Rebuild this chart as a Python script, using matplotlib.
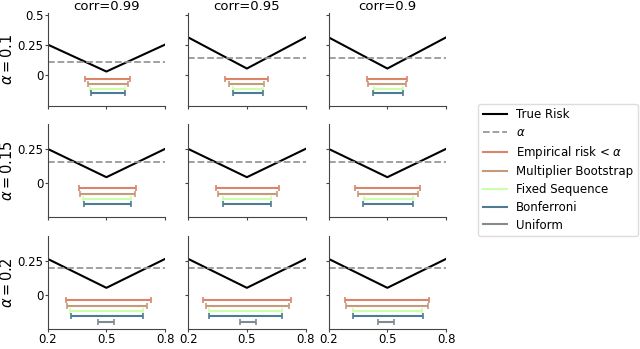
import matplotlib
matplotlib.use('Agg')
import matplotlib.pyplot as plt

corrs = [0.99, 0.95, 0.9]
alphas = [0.1, 0.15, 0.2]
lambdas = [0.2, 0.5, 0.8]

# true risk at lambda = 0.2, 0.5, 0.8 for each (alpha row, corr column)
true_risk = [
    [[0.25, 0.025, 0.25], [0.31, 0.05, 0.31], [0.31, 0.05, 0.31]],
    [[0.25, 0.043, 0.25], [0.25, 0.043, 0.25], [0.25, 0.043, 0.25]],
    [[0.262, 0.052, 0.262], [0.262, 0.052, 0.262], [0.262, 0.052, 0.262]],
]
# dashed alpha level drawn in each panel
alpha_line = [
    [0.103, 0.137, 0.137],
    [0.152, 0.152, 0.152],
    [0.198, 0.198, 0.198],
]

methods = ['Empirical risk < $\\alpha$', 'Multiplier Bootstrap', 'Fixed Sequence',
           'Bonferroni', 'Uniform']
colors = ['#d9856a', '#c79a7c', '#ccffaa', '#4f7a96', '#7f8b90']

# selected lambda intervals (low, high) per panel, per method; None = empty
intervals = [
    [
        [(0.392, 0.619), (0.406, 0.612), (0.418, 0.594), (0.42, 0.594), None],
        [(0.39, 0.608), (0.41, 0.59), (0.428, 0.58), (0.428, 0.58), None],
        [(0.397, 0.599), (0.403, 0.594), (0.431, 0.578), (0.428, 0.578), None],
    ],
    [
        [(0.358, 0.649), (0.365, 0.646), (0.379, 0.627), (0.386, 0.625), None],
        [(0.344, 0.663), (0.354, 0.653), (0.38, 0.625), (0.378, 0.622), None],
        [(0.337, 0.667), (0.348, 0.657), (0.38, 0.631), (0.375, 0.63), None],
    ],
    [
        [(0.295, 0.726), (0.298, 0.708), (0.315, 0.685), (0.318, 0.685), (0.455, 0.538)],
        [(0.274, 0.727), (0.29, 0.713), (0.308, 0.68), (0.304, 0.68), (0.466, 0.546)],
        [(0.282, 0.714), (0.287, 0.707), (0.326, 0.676), (0.326, 0.684), (0.454, 0.534)],
    ],
]

ylims = [(-0.261, 0.514), (-0.25, 0.429), (-0.245, 0.429)]
yticks = [[0, 0.25, 0.5], [0, 0.25], [0, 0.25]]
ylabels_txt = [['0', '0.25', '0.5'], ['0', '0.25'], ['0', '0.25']]

fig, axes = plt.subplots(3, 3, figsize=(6.4, 3.49), dpi=100)
fig.subplots_adjust(left=0.0745, right=0.697, bottom=0.058, top=0.963,
                    wspace=0.196, hspace=0.2)

for i in range(3):
    for j in range(3):
        ax = axes[i][j]
        ax.plot(lambdas, true_risk[i][j], color='black', lw=1.5, label='True Risk')
        ax.axhline(alpha_line[i][j], color='#999999', ls='--', lw=1.3, label='$\\alpha$')
        for k in range(len(methods)):
            iv = intervals[i][j][k]
            y = -0.039 * (k + 1)
            ax.plot([], [], color=colors[k], lw=1.5, label=methods[k])
            if iv is None:
                continue
            mid = (iv[0] + iv[1]) / 2
            ax.errorbar([mid], [y], xerr=[[mid - iv[0]], [iv[1] - mid]], color=colors[k],
                        lw=1.5, capsize=2.5, capthick=1.2, fmt='none')
        ax.set_xlim(0.2, 0.8)
        ax.set_ylim(*ylims[i])
        ax.set_xticks([0.2, 0.5, 0.8])
        ax.set_yticks(yticks[i])
        ax.spines['top'].set_visible(False)
        ax.spines['right'].set_visible(False)
        for s in ['left', 'bottom']:
            ax.spines[s].set_color('#444444')
        ax.tick_params(colors='#444444', labelcolor='black', labelsize=8.5,
                       length=2, pad=1)
        if i == 2:
            ax.set_xticklabels(['0.2', '0.5', '0.8'])
        else:
            ax.set_xticklabels([])
        if j == 0:
            ax.set_yticklabels(ylabels_txt[i])
            ax.set_ylabel('$\\alpha = %s$' % alphas[i], fontsize=10.5, labelpad=2)
        else:
            ax.set_yticklabels([])
        if i == 0:
            ax.set_title('corr=%s' % corrs[j], fontsize=9.5, pad=1)

handles, labels = axes[0][0].get_legend_handles_labels()
fig.legend(handles, labels, loc='center left', bbox_to_anchor=(0.738, 0.513),
           fontsize=8.5, labelspacing=0.4, frameon=True, framealpha=1,
           edgecolor='#dddddd')

fig.savefig('out.png', dpi=100)
